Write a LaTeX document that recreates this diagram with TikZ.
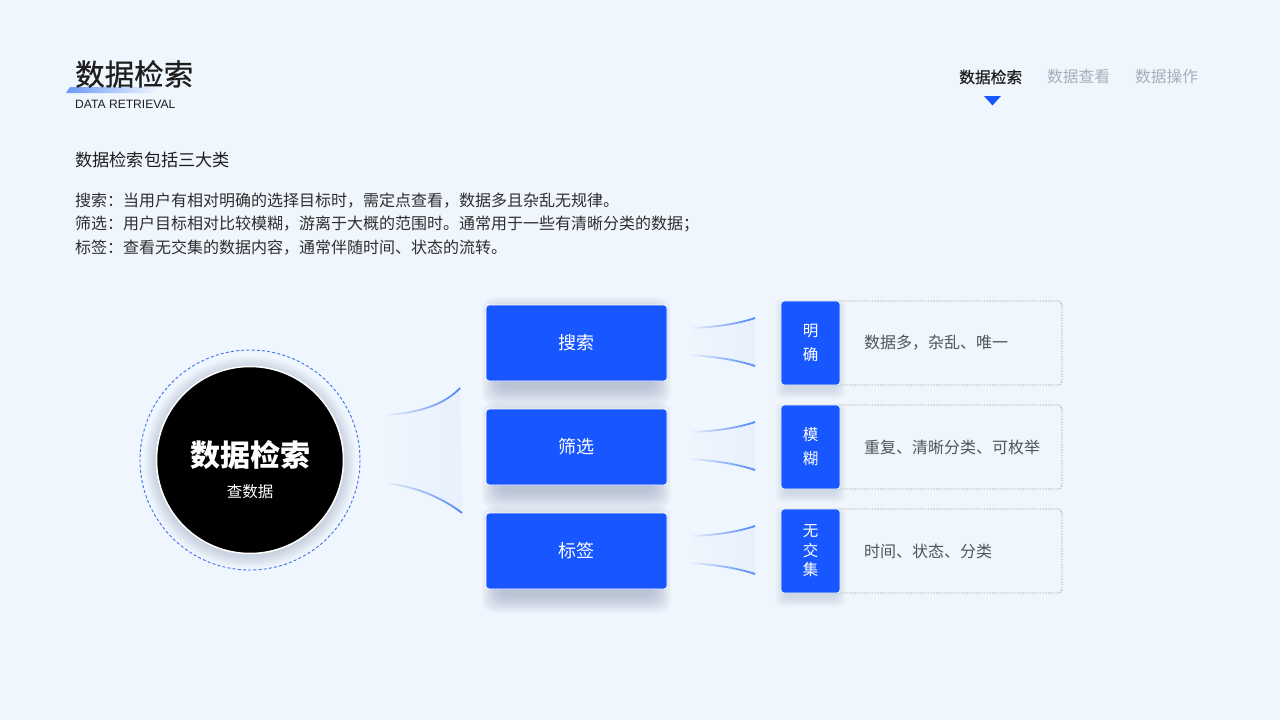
\documentclass[tikz,border=0pt]{standalone}
\usepackage{fontspec}
\setmainfont{Noto Sans CJK SC}
\newfontfamily\medfont[FakeBold=0.6]{Noto Sans CJK SC}
\newfontfamily\latinfont{Liberation Sans}
\usetikzlibrary{fadings}
\definecolor{bg}{HTML}{F0F6FE}
\definecolor{mainblue}{HTML}{1857FF}
\definecolor{linkblue}{HTML}{4F85F6}
\definecolor{fillblue}{HTML}{D0E1FD}
\definecolor{darktext}{HTML}{1E1E1E}
\definecolor{bodytext}{HTML}{2E2E2E}
\definecolor{graytab}{HTML}{A8AEB8}
\definecolor{softgray}{HTML}{50555C}
\definecolor{dotgray}{HTML}{9EA3AB}
\definecolor{shadowc}{HTML}{8C9AB5}
\definecolor{ringblue}{HTML}{3F6FF2}
\definecolor{barblue}{HTML}{6A9AF8}
\tikzfading[name=fadeinR, left color=transparent!100, right color=transparent!0]
\tikzfading[name=fadeoutR, left color=transparent!0, right color=transparent!100]
\tikzfading[name=midfade, left color=transparent!100, middle color=transparent!25, right color=transparent!75]
\newcommand\boxshadow[4]{%
  \foreach \i in {1,...,18}{%
    \fill[shadowc, opacity=0.035, rounded corners=12] (#1+14-\i, #2+10-\i) rectangle (#3-14+\i, #4+6+\i);
  }}
\begin{document}
\begin{tikzpicture}[x=1pt,y=-1pt,
  every node/.style={inner sep=0pt},
  bluebox/.style={fill=mainblue, draw=white, line width=0.8pt, rounded corners=3pt, minimum width=181pt, minimum height=76pt,
    text=white, font=\fontsize{18}{21}\selectfont},
  labelbox/.style={fill=mainblue, draw=white, line width=0.8pt, rounded corners=3pt, minimum width=59pt,
    minimum height=84pt, text=white, align=center},
  dotbox/.style={draw=dotgray, line width=0.9pt, dash pattern=on 1.4pt off 1.4pt, rounded corners=4pt,
    minimum width=281pt, minimum height=84pt},
  desctext/.style={anchor=west, text=softgray, font=\fontsize{16}{19}\selectfont},
  bodyline/.style={anchor=west, text=bodytext, font=\fontsize{16}{19}\selectfont},
  tab/.style={anchor=west, font=\fontsize{15.75}{18}\selectfont},
  linkline/.style={linkblue, line width=1.8pt, path fading=fadeinR},
  linkfill/.style={fillblue, path fading=midfade}
]
\useasboundingbox (0,0) rectangle (1280,720);
\fill[bg] (0,0) rectangle (1280,720);

% ---- header ----
\fill[barblue, path fading=fadeoutR] (70,87) -- (158,87) -- (155,93) -- (66,93) -- cycle;
\node[anchor=west, text=darktext, font=\fontsize{29.5}{33}\selectfont\medfont] (title) at (75,74) {数据检索};
\node[anchor=west, text=darktext, font=\fontsize{12.1}{14}\selectfont\latinfont] (subtitle) at (75,104) {DATA RETRIEVAL};

\node[tab, text=darktext, font=\fontsize{15.75}{18}\selectfont\medfont] (tab1) at (959,77) {数据检索};
\node[tab, text=graytab] (tab2) at (1047,77) {数据查看};
\node[tab, text=graytab] (tab3) at (1135,77) {数据操作};
\fill[mainblue] (984,96) -- (1001,96) -- (992.5,105.5) -- cycle;

% ---- intro text ----
\node[anchor=west, text=darktext, font=\fontsize{17.2}{20}\selectfont] (intro) at (75,160) {数据检索包括三大类};
\node[bodyline] (b1) at (75,201) {搜索：当用户有相对明确的选择目标时，需定点查看，数据多且杂乱无规律。};
\node[bodyline] (b2) at (75,224.5) {筛选：用户目标相对比较模糊，游离于大概的范围时。通常用于一些有清晰分类的数据；};
\node[bodyline] (b3) at (75,248) {标签：查看无交集的数据内容，通常伴随时间、状态的流转。};

% ---- central circle ----
\foreach \i in {1,...,16}{
  \fill[shadowc, opacity=0.03] (250,462) circle (90+\i);
}
\draw[ringblue, line width=0.9pt, dash pattern=on 3pt off 2.2pt] (250,460) circle (110);
\node[circle, fill=black, draw=white, line width=1.5pt, minimum size=187pt] (hub) at (250,460) {};
\node[text=white, font=\fontsize{30}{34}\selectfont\bfseries] (hubtitle) at (250,455) {数据检索};
\node[text=white, font=\fontsize{15.5}{18}\selectfont] (hubsub) at (250,492) {查数据};

% ---- big funnel ----
\coordinate (ft1) at (385,415);
\coordinate (ft2) at (460,388);
\coordinate (fb1) at (385,483);
\coordinate (fb2) at (462,513);
\fill[linkfill] (ft1) .. controls (420,413) and (445,404) .. (ft2) -- (fb2) .. controls (445,500) and (420,487) .. (fb1) -- cycle;
\draw[linkline] (ft1) .. controls (420,413) and (445,404) .. (ft2);
\draw[linkline] (fb1) .. controls (420,487) and (445,500) .. (fb2);

% ---- shadows ----
\foreach \c in {343,447,551}{
  \boxshadow{486}{\c-38}{667}{\c+38}
  \foreach \i in {1,...,10}{
    \fill[shadowc, opacity=0.03, rounded corners=6] (785-\i, \c-40-\i+6) rectangle (836+\i, \c+40+\i+6);
  }
}

% ---- small funnels ----
\foreach \c in {343,447,551}{
  \coordinate (st1) at (690,\c-15);
  \coordinate (st2) at (755,\c-25);
  \coordinate (sb1) at (690,\c+12);
  \coordinate (sb2) at (755,\c+23);
  \fill[linkfill] (st1) .. controls (720,\c-16) and (740,\c-20) .. (st2) -- (sb2) .. controls (740,\c+18) and (720,\c+14) .. (sb1) -- cycle;
  \draw[linkline] (st1) .. controls (720,\c-16) and (740,\c-20) .. (st2);
  \draw[linkline] (sb1) .. controls (720,\c+14) and (740,\c+18) .. (sb2);
}

% ---- blue category boxes ----
\node[bluebox] (search) at (576.5,343) {搜索};
\node[bluebox] (filter) at (576.5,447) {筛选};
\node[bluebox] (tag) at (576.5,551) {标签};

% ---- detail boxes ----
\node[dotbox] (d1) at (921.5,343) {};
\node[dotbox] (d2) at (921.5,447) {};
\node[dotbox] (d3) at (921.5,551) {};
\node[labelbox, font=\fontsize{15.5}{24}\selectfont] (l1) at (810.5,343) {明\\确};
\node[labelbox, font=\fontsize{15.5}{24}\selectfont] (l2) at (810.5,447) {模\\糊};
\node[labelbox, font=\fontsize{15.5}{19.5}\selectfont] (l3) at (810.5,551) {无\\交\\集};
\node[desctext] (t1) at (864,343) {数据多，杂乱、唯一};
\node[desctext] (t2) at (864,447) {重复、清晰分类、可枚举};
\node[desctext] (t3) at (864,551) {时间、状态、分类};
\end{tikzpicture}
\end{document}
